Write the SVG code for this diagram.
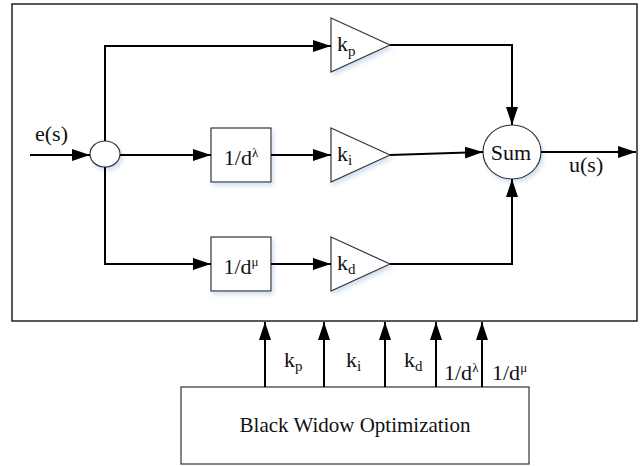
<svg xmlns="http://www.w3.org/2000/svg" width="643" height="466" viewBox="0 0 643 466">
<style>
.box{fill:#fff;stroke:#333;stroke-width:1.2}
.frame{fill:#fff;stroke:#222;stroke-width:1.5}
.wire{fill:none;stroke:#000;stroke-width:2}
text{font-family:"Liberation Serif","Times New Roman",serif;font-size:22px;fill:#111}
.bwo{font-size:21px}
.sub{font-size:15px}
.sup{font-size:13px}
</style>
<defs>
<marker id="arr" viewBox="0 0 18 12" refX="18" refY="6" markerWidth="18" markerHeight="12" markerUnits="userSpaceOnUse" orient="auto">
<path d="M0,0 L18,6 L0,12 Z" fill="#000"/>
</marker>
<filter id="sh" x="-20%" y="-20%" width="140%" height="150%">
<feDropShadow dx="2" dy="3" stdDeviation="2" flood-color="#9ab8e0" flood-opacity="0.45"/>
</filter>
</defs>
<g id="frame"><rect class="frame" x="12" y="4" width="625" height="317"/></g>
<g id="junction"><ellipse class="box" cx="105" cy="154" rx="15" ry="13" filter="url(#sh)"/></g>
<g id="int_block"><rect class="box" x="211" y="128" width="60" height="54" filter="url(#sh)"/><text x="241" y="165" text-anchor="middle">1/d<tspan class="sup" dy="-8">λ</tspan></text></g>
<g id="der_block"><rect class="box" x="211" y="237" width="60" height="54" filter="url(#sh)"/><text x="241" y="274" text-anchor="middle">1/d<tspan class="sup" dy="-8">μ</tspan></text></g>
<g id="kp_gain"><polygon class="box" points="331,18 390,45 331,72" filter="url(#sh)"/><text x="337" y="51">k<tspan class="sub" dy="5">p</tspan></text></g>
<g id="ki_gain"><polygon class="box" points="331,128 390,155 331,182" filter="url(#sh)"/><text x="337" y="161">k<tspan class="sub" dy="4">i</tspan></text></g>
<g id="kd_gain"><polygon class="box" points="331,237 390,264 331,291" filter="url(#sh)"/><text x="337" y="270">k<tspan class="sub" dy="4">d</tspan></text></g>
<g id="sum"><ellipse class="box" cx="512" cy="152" rx="29" ry="27" filter="url(#sh)"/><text x="511" y="160" text-anchor="middle">Sum</text></g>
<g id="bwo"><rect class="box" x="181" y="387" width="348" height="77"/><text class="bwo" x="355" y="432" text-anchor="middle">Black Widow Optimization</text></g>
<g id="connectors">
<line class="wire" x1="30" y1="155" x2="90" y2="155" marker-end="url(#arr)"/>
<polyline class="wire" points="105,141 105,46 331,46" marker-end="url(#arr)"/>
<line class="wire" x1="120" y1="155" x2="211" y2="155" marker-end="url(#arr)"/>
<line class="wire" x1="271" y1="155" x2="331" y2="155" marker-end="url(#arr)"/>
<polyline class="wire" points="105,167 105,264 211,264" marker-end="url(#arr)"/>
<line class="wire" x1="271" y1="264" x2="331" y2="264" marker-end="url(#arr)"/>
<polyline class="wire" points="390,45 512,45 512,125" marker-end="url(#arr)"/>
<line class="wire" x1="390" y1="155" x2="483" y2="152" marker-end="url(#arr)"/>
<polyline class="wire" points="390,264 512,264 512,179" marker-end="url(#arr)"/>
<line class="wire" x1="541" y1="152" x2="636" y2="152" marker-end="url(#arr)"/>
<line class="wire" x1="265" y1="387" x2="265" y2="322" marker-end="url(#arr)"/>
<line class="wire" x1="324" y1="387" x2="324" y2="322" marker-end="url(#arr)"/>
<line class="wire" x1="385" y1="387" x2="385" y2="322" marker-end="url(#arr)"/>
<line class="wire" x1="436" y1="387" x2="436" y2="322" marker-end="url(#arr)"/>
<line class="wire" x1="482" y1="387" x2="482" y2="322" marker-end="url(#arr)"/>
</g>
<g id="labels">
<text x="35" y="141">e(s)</text>
<text x="569" y="172">u(s)</text>
<text x="284" y="367">k<tspan class="sub" dy="4">p</tspan></text>
<text x="346" y="367">k<tspan class="sub" dy="4">i</tspan></text>
<text x="404" y="367">k<tspan class="sub" dy="4">d</tspan></text>
<text x="444" y="380">1/d<tspan class="sup" dy="-8">λ</tspan></text>
<text x="492" y="380">1/d<tspan class="sup" dy="-8">μ</tspan></text>
</g>
</svg>
